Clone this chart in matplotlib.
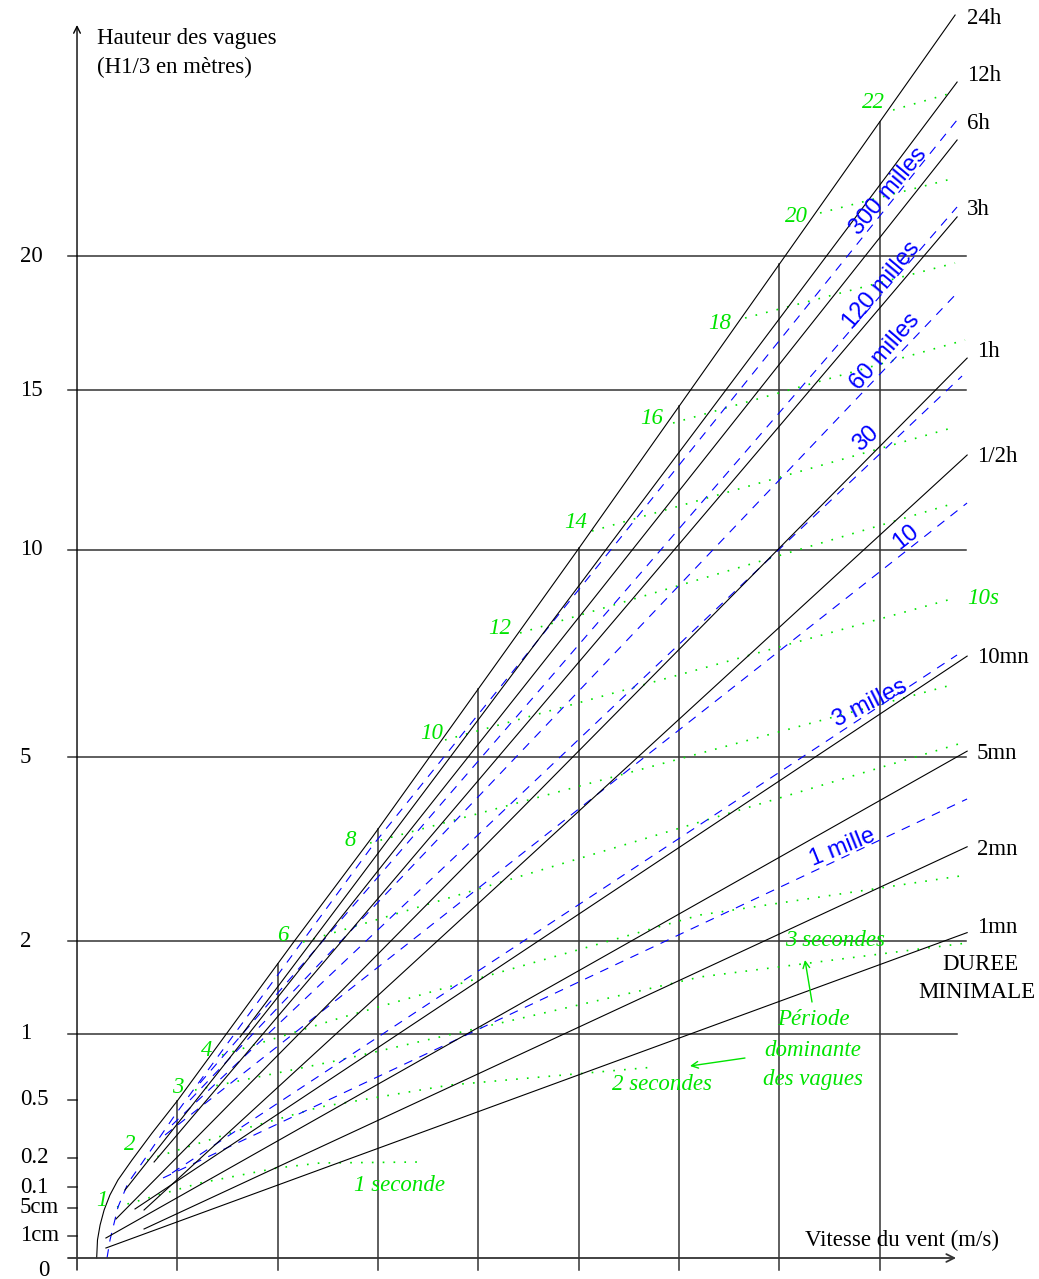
import numpy as np
import matplotlib.pyplot as plt

# grid of the nomogram: wind speed (m/s) and wave height H1/3 (m)
speed_grid = [5, 10, 15, 20, 25, 30, 35, 40]
height_grid = [1, 2, 5, 10, 15, 20]
small_ticks = [0.5, 0.2, 0.1, 0.05, 0.01]
tick_values = [20, 15, 10, 5, 2, 1, 0.5, 0.2, 0.1, 0.05, 0.01]
tick_labels = ['20', '15', '10', '5', '2', '1', '0.5', '0.2', '0.1', '5cm', '1cm']

# 24h line = upper envelope (curved near the origin)
env_v = [0.98, 1.02, 1.15, 1.35, 1.64, 2.04, 2.74, 3.74, 5.03, 10.76, 14.75, 24.91, 43.75]
env_h = [0, 0.0065, 0.0217, 0.0459, 0.0791, 0.1213, 0.1914, 0.3114, 0.4976, 1.978, 3.549, 9.962, 30.79]

# minimum duration lines (start -> end)
dur_labels = ['12h', '6h', '3h', '1h', '1/2h', '10mn', '5mn', '2mn', '1mn']
dur_v0 = [8.12, 2.39, 3.84, 1.94, 3.34, 2.89, 1.44, 3.34, 1.44]
dur_h0 = [0.973, 0.0922, 0.1837, 0.0303, 0.0459, 0.0479, 0.00797, 0.01676, 0.00199]
dur_v1 = [43.85, 43.85, 43.85, 44.35, 44.35, 44.35, 44.35, 44.35, 44.35]
dur_h1 = [27.56, 24.91, 21.60, 16.14, 12.85, 7.22, 5.12, 3.37, 2.11]
dur_text_v = [44.35, 44.35, 44.35, 44.35, 44.84, 44.84, 44.84, 44.84, 44.84, 44.84]
dur_text_h = [30.64, 27.89, 25.63, 21.89, 16.36, 12.79, 7.18, 5.08, 3.33, 2.18]

# fetch lines (blue dashed)
fetch_labels = ['300 milles', '120 milles', '60 milles', '30', '10', '3 milles', '1 mille']
fetch_v = [[1.495, 1.644, 2.043, 2.541, 3.239, 4.883, 14.748, 43.847],
           [6.129, 43.847],
           [5.63, 43.847],
           [4.733, 44.096],
           [4.385, 44.345],
           [4.733, 43.847],
           [4.285, 44.345]]
fetch_h = [[0, 0.00646, 0.05184, 0.1121, 0.1799, 0.4075, 3.399, 25.809],
           [0.6104, 22.014],
           [0.4975, 18.559],
           [0.3525, 15.504],
           [0.3015, 11.36],
           [0.144, 7.247],
           [0.1276, 4.199]]
fetch_text_v = [40.46, 40.11, 40.26, 39.31, 41.31, 39.51, 38.12]
fetch_text_h = [22.69, 18.87, 16.36, 13.37, 10.36, 6.14, 3.35]
fetch_rot = [50, 50, 49, 42, 38, 27, 22]

# dominant period lines (green dotted), seconds
period_labels = ['1', '2', '3', '4', '6', '8', '10', '12', '14', '16', '18', '20', '22']
period_v = [[1.993, 6.129, 9.965, 12.108, 17.09],
            [3.488, 8.122, 12.108, 18.585, 28.799],
            [5.879, 13.104, 31.041, 44.345],
            [7.225, 13.104, 31.041, 44.345],
            [11.26, 31.041, 44.245],
            [14.599, 43.747],
            [18.336, 43.747],
            [22.073, 43.747],
            [25.66, 43.747],
            [29.696, 44.245],
            [33.284, 43.747],
            [37.02, 43.747],
            [40.658, 43.747]]
period_h = [[0.05184, 0.1121, 0.1614, 0.1799, 0.1837],
            [0.1914, 0.3265, 0.4544, 0.5965, 0.7271],
            [0.5625, 0.7813, 1.574, 1.978],
            [0.8213, 1.148, 2.345, 2.924],
            [1.990, 3.789, 5.306],
            [3.432, 6.566],
            [5.348, 8.681],
            [7.785, 11.36],
            [10.533, 13.763],
            [13.895, 16.795],
            [17.609, 19.731],
            [21.764, 23.246],
            [26.265, 27.095]]
period_text_v = [1.246, 2.641, 5.032, 6.477, 10.264, 13.602, 17.688, 21.076, 24.863, 28.65, 32.04, 35.87, 39.66]
period_text_h = [0.067, 0.2545, 0.576, 0.862, 2.079, 3.482, 5.493, 7.91, 10.767, 14.06, 17.42, 21.6, 26.59]


def fwd(h):
    h = np.asarray(h, dtype=float)
    return np.sign(h) * np.sqrt(np.abs(h))


def inv(s):
    s = np.asarray(s, dtype=float)
    return np.sign(s) * s ** 2


GREEN = '#00e400'
BLUE = '#0000ff'
GRID = '#333333'
SERIF = 'Liberation Serif'
SANS = 'Liberation Sans'

fig = plt.figure(figsize=(10.39, 12.79), dpi=100)
ax = fig.add_axes([0, 0, 1, 1])
ax.set_yscale('function', functions=(fwd, inv))
ax.set_xlim(-3.837, 47.93)
ax.set_ylim(-0.00879, 31.54)
ax.axis('off')

below = -0.0029  # ticks hang a little under the speed axis

# axes with arrows
ax.annotate('', xy=(0, 30.3), xytext=(0, below), arrowprops=dict(arrowstyle='->', lw=1.0, color='black', shrinkA=0, shrinkB=0, mutation_scale=12))
ax.annotate('', xy=(43.8, 0), xytext=(-0.45, 0), arrowprops=dict(arrowstyle='->', lw=1.3, color=GRID, shrinkA=0, shrinkB=0, mutation_scale=14))

# horizontal grid and small ticks
for h in height_grid:
    ax.plot([-0.45, 43.85 if h == 1 else 44.3], [h, h], color=GRID, lw=1.1)
for h in small_ticks:
    ax.plot([-0.45, 0], [h, h], color=GRID, lw=1.1)

# vertical grid up to the envelope
env_s = np.sqrt(env_h)
for v in speed_grid:
    top = np.interp(v, env_v, env_s) ** 2
    ax.plot([v, v], [below, top], color=GRID, lw=1.1)

# period lines (drawn first, under the rest)
for vs, hs in zip(period_v, period_h):
    ax.plot(vs, hs, color=GREEN, lw=1.2, linestyle=(0, (1, 5.5)))

# fetch lines
for vs, hs in zip(fetch_v, fetch_h):
    ax.plot(vs, hs, color=BLUE, lw=0.8, linestyle=(0, (8, 7)))

# duration lines
ax.plot(env_v, env_h, color='black', lw=0.8)
for v0, h0, v1, h1 in zip(dur_v0, dur_h0, dur_v1, dur_h1):
    ax.plot([v0, v1], [h0, h1], color='black', lw=0.8)

# texts
fs = 16.5
for lab, v, h in zip(['24h'] + dur_labels, dur_text_v, dur_text_h):
    ax.text(v, h, lab, family=SERIF, fontsize=fs, ha='left', va='center')
for lab, h in zip(tick_labels, tick_values):
    ax.text(-2.84, h, lab, family=SERIF, fontsize=fs, ha='left', va='center')
ax.text(-1.644, below, '0', family=SERIF, fontsize=fs, ha='center', va='center')

ax.text(1.0, 29.66, 'Hauteur des vagues', family=SERIF, fontsize=fs, ha='left', va='center')
ax.text(1.0, 28.27, '(H1/3 en mètres)', family=SERIF, fontsize=fs, ha='left', va='center')
ax.text(36.27, 0.00646, 'Vitesse du vent (m/s)', family=SERIF, fontsize=fs, ha='left', va='center')
ax.text(44.99, 1.7226, 'DUREE', family=SERIF, fontsize=fs, ha='center', va='center')
ax.text(44.84, 1.3996, 'MINIMALE', family=SERIF, fontsize=fs, ha='center', va='center')

for lab, v, h, r in zip(fetch_labels, fetch_text_v, fetch_text_h, fetch_rot):
    ax.text(v, h, lab, family=SANS, fontsize=17, color=BLUE, ha='center', va='center',
            rotation=r, rotation_mode='anchor')

for lab, v, h in zip(period_labels, period_text_v, period_text_h):
    ax.text(v, h, lab, family=SERIF, style='italic', fontsize=fs, color=GREEN, ha='center', va='center')

green_notes = [('1 seconde', 16.09, 0.1062), ('2 secondes', 29.15, 0.5965), ('3 secondes', 37.77, 2.015),
               ('10s', 45.14, 8.681), ('Période', 36.67, 1.1289), ('dominante', 36.67, 0.8622),
               ('des vagues', 36.67, 0.6315)]
for lab, v, h in green_notes:
    ax.text(v, h, lab, family=SERIF, style='italic', fontsize=fs, color=GREEN, ha='center', va='center')

ax.annotate('', xy=(36.27, 1.77), xytext=(36.62, 1.306),
            arrowprops=dict(arrowstyle='->', color=GREEN, lw=1.0, shrinkA=0, shrinkB=0, mutation_scale=12))
ax.annotate('', xy=(30.54, 0.7347), xytext=(33.28, 0.797),
            arrowprops=dict(arrowstyle='->', color=GREEN, lw=1.0, shrinkA=0, shrinkB=0, mutation_scale=12))

fig.savefig('out.png', dpi=100)
